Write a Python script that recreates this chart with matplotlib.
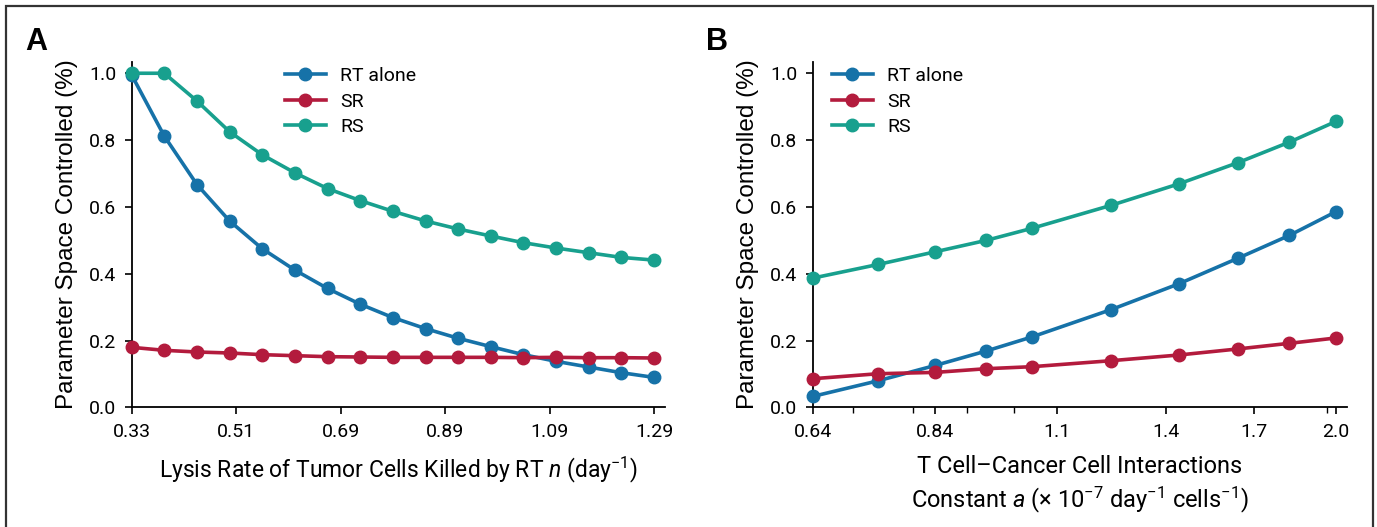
import matplotlib
matplotlib.use('Agg')
import matplotlib.pyplot as plt
from matplotlib.patches import Rectangle
from matplotlib.ticker import FixedLocator, NullFormatter

# panel A: lysis rate n
n_vals = [0.33, 0.39, 0.45, 0.51, 0.57, 0.63, 0.69, 0.75, 0.81, 0.87, 0.93, 0.99,
          1.05, 1.11, 1.17, 1.23, 1.29]
a_rt = [0.995, 0.812, 0.667, 0.558, 0.475, 0.411, 0.356, 0.309, 0.269, 0.236, 0.207,
        0.182, 0.158, 0.138, 0.121, 0.104, 0.090]
a_sr = [0.180, 0.171, 0.166, 0.163, 0.158, 0.155, 0.152, 0.151, 0.150, 0.150, 0.150,
        0.150, 0.149, 0.150, 0.149, 0.149, 0.148]
a_rs = [1.0, 1.0, 0.917, 0.825, 0.756, 0.702, 0.655, 0.619, 0.587, 0.558, 0.534,
        0.513, 0.493, 0.477, 0.463, 0.449, 0.441]
a_ticklabels = ['0.33', '0.51', '0.69', '0.89', '1.09', '1.29']

# panel B: interaction constant a
a_vals = [0.64, 0.74, 0.84, 0.94, 1.04, 1.24, 1.44, 1.64, 1.84, 2.04]
b_rt = [0.033, 0.080, 0.126, 0.169, 0.211, 0.293, 0.370, 0.446, 0.515, 0.586]
b_sr = [0.086, 0.101, 0.105, 0.116, 0.122, 0.140, 0.157, 0.175, 0.192, 0.208]
b_rs = [0.387, 0.428, 0.466, 0.500, 0.536, 0.605, 0.669, 0.732, 0.794, 0.856]
b_ticks = [0.64, 0.84, 1.1, 1.4, 1.7, 2.04]
b_ticklabels = ['0.64', '0.84', '1.1', '1.4', '1.7', '2.0']
b_minor = [0.7, 0.8, 0.9, 1.0, 2.0]

labels = ['RT alone', 'SR', 'RS']
colors = ['#1672a8', '#b31b3d', '#18a08e']

narrow = ['Roboto', 'DejaVu Sans']
plain = ['Liberation Sans', 'DejaVu Sans']
plt.rcParams['mathtext.fontset'] = 'custom'
plt.rcParams['mathtext.rm'] = 'Roboto'
plt.rcParams['mathtext.it'] = 'Roboto:italic'

fig = plt.figure(figsize=(13.77, 5.27), dpi=100)
fig.patches.append(Rectangle((6 / 1377, -0.05), 1367 / 1377, 1.05 - 6 / 527,
                             transform=fig.transFigure, fill=False,
                             edgecolor='#333333', linewidth=1.6))

axA = fig.add_axes([0.0956, 0.2268, 0.3873, 0.6564])
axB = fig.add_axes([0.5902, 0.2268, 0.3880, 0.6564])


def style(ax, legpos):
    for s in ['top', 'right']:
        ax.spines[s].set_visible(False)
    for s in ['left', 'bottom']:
        ax.spines[s].set_linewidth(1.3)
    ax.set_ylim(0, 1.035)
    ax.set_yticks([0.0, 0.2, 0.4, 0.6, 0.8, 1.0])
    ax.set_yticklabels(['0.0', '0.2', '0.4', '0.6', '0.8', '1.0'])
    ax.tick_params(direction='out', length=5, width=1.2, labelsize=14, pad=6)
    ax.tick_params(which='minor', direction='out', length=4, width=1.0)
    for t in ax.get_xticklabels() + ax.get_yticklabels():
        t.set_family(narrow)
    ax.set_ylabel('Parameter Space Controlled (%)', fontsize=17.5, family=plain, labelpad=8)
    ax.legend(loc='upper left', frameon=False, borderpad=0, borderaxespad=0,
              handlelength=2.1, handletextpad=0.75, labelspacing=0.4,
              prop={'family': narrow, 'size': 14}, bbox_to_anchor=legpos)


for ax, xs, series in [(axA, n_vals, [a_rt, a_sr, a_rs]), (axB, a_vals, [b_rt, b_sr, b_rs])]:
    for ys, lab, c in zip(series, labels, colors):
        ax.plot(xs, ys, '-o', color=c, label=lab, lw=2.6, ms=9, clip_on=False, zorder=3)

# panel A axis
axA.set_xlim(0.33, 1.31)
axA.set_xticks([0.33, 0.522, 0.714, 0.906, 1.098, 1.29])
axA.set_xticklabels(a_ticklabels)
axA.set_xlabel('Lysis Rate of Tumor Cells Killed by RT $n$ (day$^{-1}$)',
               fontsize=16.5, family=narrow, labelpad=10)

# panel B axis (log scaled)
axB.set_xscale('log')
axB.set_xlim(0.64, 2.09)
axB.xaxis.set_major_locator(FixedLocator(b_ticks))
axB.set_xticklabels(b_ticklabels)
axB.xaxis.set_minor_locator(FixedLocator(b_minor))
axB.xaxis.set_minor_formatter(NullFormatter())
axB.set_xlabel('T Cell\u2013Cancer Cell Interactions\nConstant $a$ (\u00d7 10$^{-7}$ day$^{-1}$ cells$^{-1}$)',
               fontsize=17, family=narrow, labelpad=10, linespacing=1.3)

style(axA, (0.287, 0.985))
style(axB, (0.036, 0.985))

fig.text(25 / 1377, 0.905, 'A', fontsize=22, fontweight='bold', family=plain, va='baseline')
fig.text(706 / 1377, 0.905, 'B', fontsize=22, fontweight='bold', family=plain, va='baseline')

fig.savefig('out.png', dpi=100)
